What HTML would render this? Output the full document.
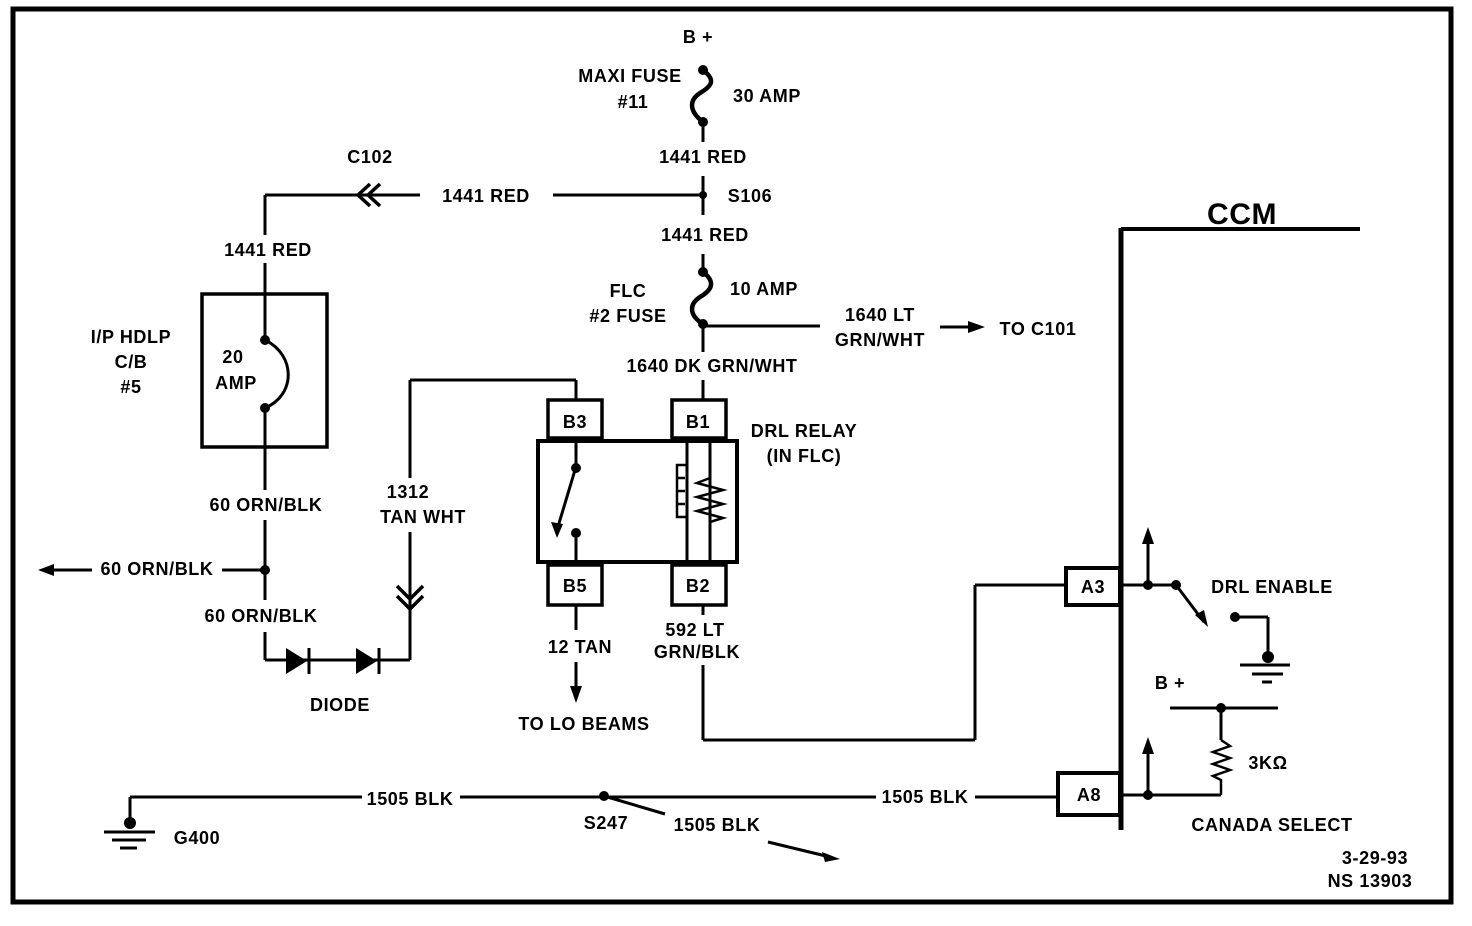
<!DOCTYPE html>
<html><head><meta charset="utf-8"><style>
html,body{margin:0;padding:0;background:#fff;}
svg{display:block;}
text{font-family:"Liberation Sans",sans-serif;font-weight:bold;font-size:18px;fill:#000;text-anchor:middle;letter-spacing:0.6px;}
</style></head><body>
<svg width="1472" height="926" viewBox="0 0 1472 926" xmlns="http://www.w3.org/2000/svg">
<g fill="none" stroke="#000" stroke-width="3">
<rect x="13" y="9" width="1438" height="893" stroke-width="5"/>
<path d="M703 70 C716 80,712 86,700 93 C688 101,690 112,703 122" stroke-width="4.5"/>
<line x1="703" y1="122" x2="703" y2="142"/>
<line x1="703" y1="176" x2="703" y2="215"/>
<line x1="265" y1="195" x2="420" y2="195"/>
<line x1="553" y1="195" x2="703" y2="195"/>
<path d="M370 184 L358 195 L370 206 M380 184 L368 195 L380 206" stroke-width="3.5"/>
<line x1="265" y1="195" x2="265" y2="235"/>
<line x1="703" y1="254" x2="703" y2="272"/>
<path d="M703 272 C716 282,712 290,700 297 C688 305,690 316,703 324" stroke-width="4.5"/>
<line x1="703" y1="326" x2="820" y2="326"/>
<line x1="940" y1="327" x2="972" y2="327"/>
<line x1="703" y1="324" x2="703" y2="352"/>
<line x1="703" y1="380" x2="703" y2="400"/>
<rect x="548" y="400" width="54" height="38" stroke-width="3.5"/>
<rect x="672" y="400" width="54" height="38" stroke-width="3.5"/>
<rect x="538" y="441" width="199" height="121" stroke-width="4"/>
<rect x="548" y="565" width="54" height="40" stroke-width="3.5"/>
<rect x="672" y="565" width="54" height="40" stroke-width="3.5"/>
<line x1="576" y1="380" x2="576" y2="400"/>
<line x1="576" y1="441" x2="576" y2="468"/>
<line x1="576" y1="533" x2="576" y2="562"/>
<line x1="575" y1="470" x2="557" y2="530"/>
<line x1="687" y1="441" x2="687" y2="562"/>
<line x1="710" y1="441" x2="710" y2="562"/>
<path d="M687 465 h-10 v52 h10 M677 478 h8 M677 491 h8 M677 504 h8" stroke-width="2.5"/>
<path d="M710 478 L697 483 L723 490 L697 497 L723 504 L697 511 L723 518 L710 522" stroke-width="2.5"/>
<line x1="703" y1="605" x2="703" y2="615"/>
<line x1="576" y1="605" x2="576" y2="630"/>
<line x1="576" y1="662" x2="576" y2="692"/>
<rect x="202" y="294" width="125" height="153" stroke-width="3.5"/>
<line x1="265" y1="263" x2="265" y2="340"/>
<path d="M265 340 C296 355,296 395,265 408"/>
<line x1="265" y1="408" x2="265" y2="490"/>
<line x1="265" y1="520" x2="265" y2="600"/>
<line x1="222" y1="570" x2="265" y2="570"/>
<line x1="52" y1="570" x2="92" y2="570"/>
<line x1="265" y1="632" x2="265" y2="660"/>
<line x1="265" y1="660" x2="410" y2="660"/>
<line x1="410" y1="660" x2="410" y2="532"/>
<line x1="410" y1="478" x2="410" y2="380"/>
<line x1="410" y1="380" x2="576" y2="380"/>
<path d="M397 586 L410 599 L423 586 M397 596 L410 609 L423 596" stroke-width="3.5"/>
<line x1="309" y1="648" x2="309" y2="674" stroke-width="3"/>
<line x1="379" y1="648" x2="379" y2="674" stroke-width="3"/>
<line x1="703" y1="665" x2="703" y2="740"/>
<line x1="703" y1="740" x2="975" y2="740"/>
<line x1="975" y1="740" x2="975" y2="585"/>
<line x1="975" y1="585" x2="1066" y2="585"/>
<line x1="1121" y1="228" x2="1121" y2="830" stroke-width="5"/>
<line x1="1121" y1="229" x2="1360" y2="229" stroke-width="4"/>
<rect x="1066" y="568" width="54" height="37" stroke-width="4"/>
<rect x="1058" y="773" width="62" height="42" stroke-width="4"/>
<line x1="1121" y1="585" x2="1176" y2="585"/>
<line x1="1148" y1="585" x2="1148" y2="535"/>
<line x1="1176" y1="585" x2="1204" y2="622"/>
<line x1="1235" y1="617" x2="1268" y2="617"/>
<line x1="1268" y1="617" x2="1268" y2="657"/>
<line x1="1240" y1="665" x2="1290" y2="665"/>
<line x1="1252" y1="674" x2="1283" y2="674"/>
<line x1="1262" y1="682" x2="1272" y2="682"/>
<line x1="1170" y1="708" x2="1278" y2="708"/>
<line x1="1221" y1="708" x2="1221" y2="740"/>
<path d="M1221 740 L1230 746 L1213 752 L1230 758 L1213 764 L1230 770 L1213 776 L1221 780 L1221 795" stroke-width="2.5"/>
<line x1="1121" y1="795" x2="1221" y2="795"/>
<line x1="1148" y1="795" x2="1148" y2="745"/>
<line x1="130" y1="797" x2="362" y2="797"/>
<line x1="460" y1="797" x2="876" y2="797"/>
<line x1="975" y1="797" x2="1058" y2="797"/>
<line x1="130" y1="797" x2="130" y2="825"/>
<line x1="104" y1="832" x2="155" y2="832"/>
<line x1="112" y1="840" x2="146" y2="840"/>
<line x1="120" y1="848" x2="137" y2="848"/>
<line x1="604" y1="796" x2="665" y2="814"/>
<line x1="768" y1="842" x2="830" y2="857"/>
</g>
<g fill="#000">
<circle cx="703" cy="70" r="5"/><circle cx="703" cy="122" r="5"/>
<circle cx="703" cy="195" r="4"/>
<circle cx="703" cy="272" r="5"/><circle cx="703" cy="324" r="5"/>
<circle cx="576" cy="468" r="5"/><circle cx="576" cy="533" r="5"/>
<circle cx="265" cy="340" r="5"/><circle cx="265" cy="408" r="5"/>
<circle cx="265" cy="570" r="5"/>
<circle cx="1148" cy="585" r="5"/><circle cx="1176" cy="585" r="5"/>
<circle cx="1235" cy="617" r="5"/><circle cx="1268" cy="657" r="6"/>
<circle cx="1221" cy="708" r="5"/><circle cx="1148" cy="795" r="5"/>
<circle cx="130" cy="823" r="6"/><circle cx="604" cy="796" r="5"/>
<polygon points="557,538 551,522 563,524"/>
<polygon points="38,570 54,564 54,576"/>
<polygon points="985,327 968,321 968,333"/>
<polygon points="576,703 570,686 582,686"/>
<polygon points="286,648 286,674 307,661"/>
<polygon points="356,648 356,674 377,661"/>
<polygon points="1148,527 1142,544 1154,544"/>
<polygon points="1148,737 1142,754 1154,754"/>
<polygon points="1208,627 1195,615 1204,610"/>
<polygon points="840,859 822,852 825,862"/>
</g>
<text x="698" y="43">B +</text>
<text x="630" y="82">MAXI FUSE</text>
<text x="633" y="108">#11</text>
<text x="767" y="102">30 AMP</text>
<text x="703" y="163">1441 RED</text>
<text x="486" y="202">1441 RED</text>
<text x="750" y="202">S106</text>
<text x="370" y="163">C102</text>
<text x="705" y="241">1441 RED</text>
<text x="628" y="297">FLC</text>
<text x="628" y="322">#2 FUSE</text>
<text x="764" y="295">10 AMP</text>
<text x="880" y="321">1640 LT</text>
<text x="880" y="346">GRN/WHT</text>
<text x="1038" y="335">TO C101</text>
<text x="712" y="372">1640 DK GRN/WHT</text>
<text x="575" y="428">B3</text>
<text x="698" y="428">B1</text>
<text x="575" y="592">B5</text>
<text x="698" y="592">B2</text>
<text x="804" y="437">DRL RELAY</text>
<text x="804" y="462">(IN FLC)</text>
<text x="268" y="256">1441 RED</text>
<text x="131" y="343">I/P HDLP</text>
<text x="131" y="368">C/B</text>
<text x="131" y="393">#5</text>
<text x="233" y="363">20</text>
<text x="236" y="389">AMP</text>
<text x="266" y="511">60 ORN/BLK</text>
<text x="157" y="575">60 ORN/BLK</text>
<text x="261" y="622">60 ORN/BLK</text>
<text x="340" y="711">DIODE</text>
<text x="408" y="498">1312</text>
<text x="423" y="523">TAN WHT</text>
<text x="580" y="653">12 TAN</text>
<text x="584" y="730">TO LO BEAMS</text>
<text x="695" y="636">592 LT</text>
<text x="697" y="658">GRN/BLK</text>
<text x="1242" y="224" style="font-size:30px">CCM</text>
<text x="1093" y="593">A3</text>
<text x="1089" y="801">A8</text>
<text x="1272" y="593">DRL ENABLE</text>
<text x="1170" y="689">B +</text>
<text x="1268" y="769">3KΩ</text>
<text x="1272" y="831">CANADA SELECT</text>
<text x="410" y="805">1505 BLK</text>
<text x="925" y="803">1505 BLK</text>
<text x="717" y="831">1505 BLK</text>
<text x="606" y="829">S247</text>
<text x="197" y="844">G400</text>
<text x="1375" y="864">3-29-93</text>
<text x="1370" y="887">NS 13903</text>
</svg>
</body></html>
